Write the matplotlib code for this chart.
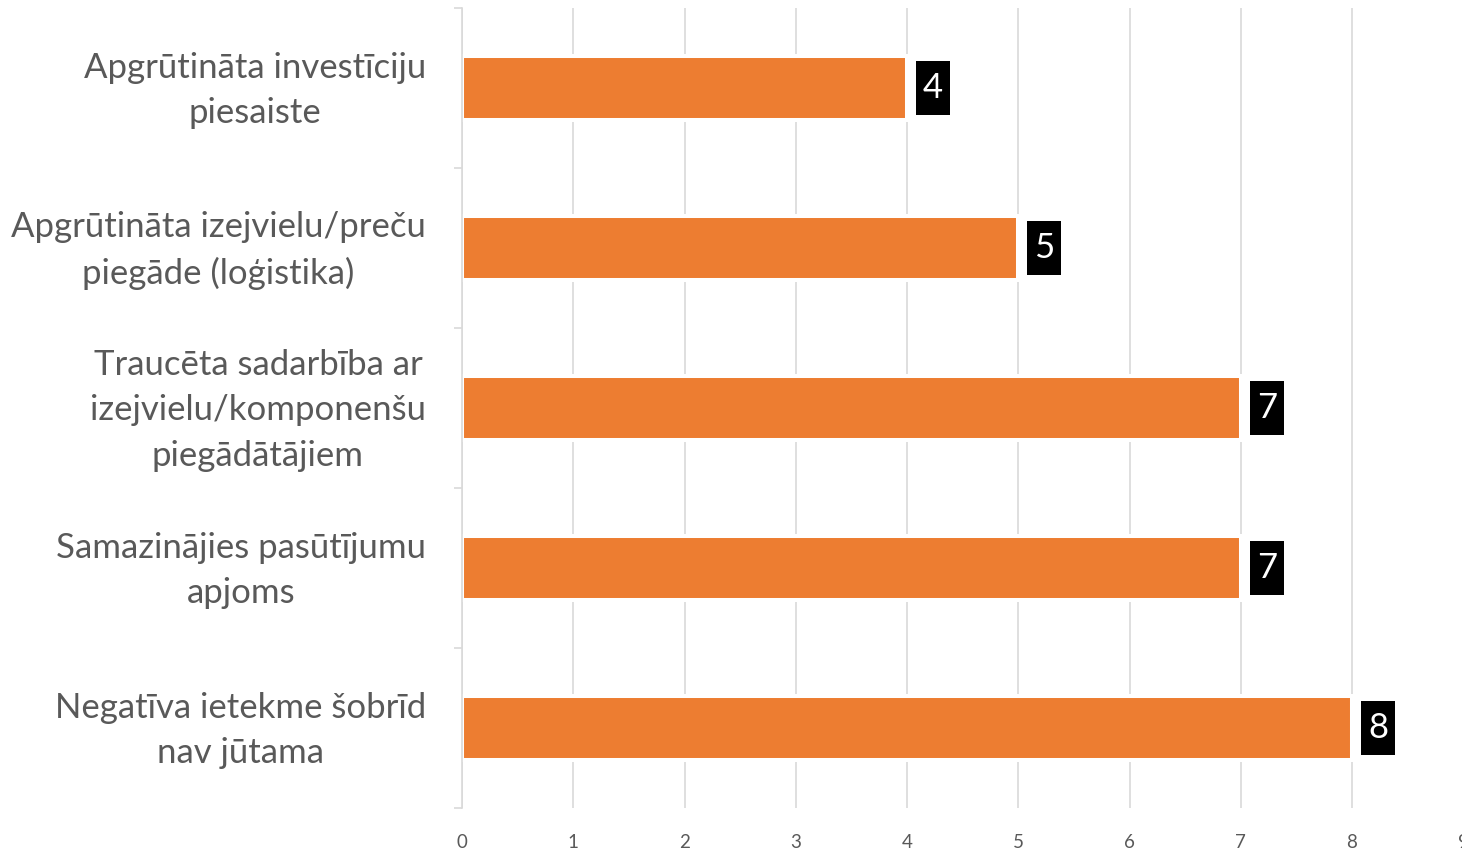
"""Horizontal bar chart: negative impact categories with boxed value labels."""
import matplotlib

matplotlib.use("Agg")
import matplotlib.pyplot as plt
import matplotlib.transforms as mtransforms
import numpy as np
from matplotlib.path import Path

categories = [
    "Apgrūtināta investīciju\npiesaiste",
    "Apgrūtināta izejvielu/preču\npiegāde (loģistika)",
    "Traucēta sadarbība ar\nizejvielu/komponenšu\npiegādātājiem",
    "Samazinājies pasūtījumu\napjoms",
    "Negatīva ietekme šobrīd\nnav jūtama",
]
values = [4, 5, 7, 7, 8]
x_ticks = [0, 1, 2, 3, 4, 5, 6, 7, 8, 9]

BAR_COLOR = "#ED7D31"
GRID_COLOR = "#D9D9D9"
TEXT_COLOR = "#595959"

plt.rcParams["font.family"] = ["Lato", "DejaVu Sans"]


def label_box(x0, y0, width, height, mutation_size):
    # square box with more padding vertically than horizontally
    px = 0.2 * mutation_size
    py = 0.32 * mutation_size
    x0, y0 = x0 - px, y0 - py
    x1, y1 = x0 + width + 2 * px, y0 + height + 2 * py
    return Path([(x0, y0), (x1, y0), (x1, y1), (x0, y1), (x0, y0)], closed=True)


W, H = 1462, 852
fig = plt.figure(figsize=(W / 100, H / 100), dpi=100)
ax = fig.add_axes([462 / W, 1 - 808 / H, (1463.25 - 462) / W, 800 / H])

y = np.arange(len(categories))
ax.barh(y, values, height=0.4, color=BAR_COLOR, edgecolor="white",
        linewidth=2.9, zorder=2)

ax.set_xlim(0, 9)
ax.set_ylim(len(categories) - 0.5, -0.5)
ax.set_xticks(x_ticks)
ax.set_xticklabels([str(t) for t in x_ticks])
ax.grid(axis="x", color=GRID_COLOR, linewidth=1.2, zorder=0)
ax.set_axisbelow(True)

# category boundaries carry the small tick marks; labels drawn as text
ax.set_yticks(np.arange(len(categories) + 1) - 0.5)
ax.tick_params(axis="y", length=6, width=1.2, color=GRID_COLOR, labelleft=False)
ax.tick_params(axis="x", length=0, pad=19, labelsize=13.5, labelcolor=TEXT_COLOR)

label_trans = ax.get_yaxis_transform() + mtransforms.ScaledTranslation(
    -36 / 100, -2.5 / 100, fig.dpi_scale_trans)
for yi, cat in zip(y, categories):
    ax.text(0, yi, cat, transform=label_trans, ha="right", va="center",
            multialignment="center", linespacing=1.51, fontsize=25,
            color=TEXT_COLOR)

for side in ["top", "right", "bottom"]:
    ax.spines[side].set_visible(False)
ax.spines["left"].set_color(GRID_COLOR)
ax.spines["left"].set_linewidth(1.2)

for yi, v in zip(y, values):
    ax.annotate(
        str(v), xy=(v, yi), xytext=(11.5, 0), textcoords="offset points",
        ha="left", va="center", color="white", fontsize=25,
        bbox=dict(boxstyle=label_box, fc="black", ec="none"),
        zorder=5,
    )

fig.savefig("out.png", dpi=100)
